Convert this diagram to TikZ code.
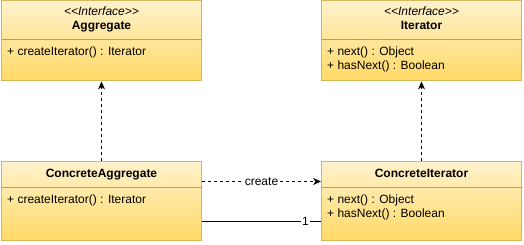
\documentclass[tikz,border=0pt]{standalone}
\usepackage{fontspec}
\setmainfont{Liberation Sans}
\usetikzlibrary{arrows.meta}
\definecolor{boxtop}{HTML}{FFF2CC}
\definecolor{boxbot}{HTML}{FFD966}
\definecolor{boxline}{HTML}{D6B656}
\definecolor{sepline}{HTML}{9AA0A8}

\begin{document}
\begin{tikzpicture}[x=1pt,y=-1pt,
        font=\fontsize{12pt}{14pt}\selectfont,
        classbox/.style={draw=boxline, line width=1pt, top color=boxtop,
            bottom color=boxbot, minimum width=200pt, inner sep=0pt},
        sepbar/.style={draw=sepline, line width=1pt, shorten <=0.5pt, shorten >=0.5pt},
        member/.style={anchor=west, inner sep=0pt, text height=9pt, text depth=3pt},
        title/.style={inner sep=0pt, text height=9pt, text depth=3pt, font=\fontsize{12pt}{14pt}\selectfont\bfseries},
        stereo/.style={inner sep=0pt, text height=9pt, text depth=3pt, font=\fontsize{12pt}{14pt}\selectfont\itshape},
        dep/.style={line width=0.8pt, dash pattern=on 3pt off 3pt, -{Stealth[length=8pt,width=7pt]}},
        assoc/.style={line width=0.8pt},
        tag/.style={fill=white, inner sep=1pt}]
    \useasboundingbox (0,0) rectangle (524,245);

    % the four classes
    \node[classbox, minimum height=80pt] (agg) at (101.5,41) {};
    \node[classbox, minimum height=80pt] (iter) at (421.5,41) {};
    \node[classbox, minimum height=79pt] (cagg) at (101.5,201.5) {};
    \node[classbox, minimum height=79pt] (citer) at (421.5,201.5) {};

    \draw[sepbar] (agg.west |- 0,40) -- (agg.east |- 0,40);
    \draw[sepbar] (iter.west |- 0,40) -- (iter.east |- 0,40);
    \draw[sepbar] (cagg.west |- 0,187.5) -- (cagg.east |- 0,187.5);
    \draw[sepbar] (citer.west |- 0,187.5) -- (citer.east |- 0,187.5);

    % Aggregate
    \node[stereo] (aggst) at (agg.north |- 0,13) {{<}{<}Interface{>}{>}};
    \node[title] (aggname) at (agg.north |- 0,27) {Aggregate};
    \node[member] (aggm1) at (7,53) {+ createIterator() : Iterator};

    % Iterator
    \node[stereo] (iterst) at (iter.north |- 0,13) {{<}{<}Interface{>}{>}};
    \node[title] (itername) at (iter.north |- 0,27) {Iterator};
    \node[member] (iterm1) at (327,53) {+ next() : Object};
    \node[member] (iterm2) at (327,67) {+ hasNext() : Boolean};

    % ConcreteAggregate
    \node[title] (caggname) at (cagg.north |- 0,175) {ConcreteAggregate};
    \node[member] (caggm1) at (7,201) {+ createIterator() : Iterator};

    % ConcreteIterator
    \node[title] (citername) at (citer.north |- 0,175) {ConcreteIterator};
    \node[member] (citerm1) at (327,201) {+ next() : Object};
    \node[member] (citerm2) at (327,215) {+ hasNext() : Boolean};

    % relations
    \draw[dep] (cagg.north) -- (agg.south);
    \draw[dep] (citer.north) -- (iter.south);
    \draw[dep] ([yshift=-20pt]cagg.north east) -- ([yshift=-20pt]citer.north west)
        node[tag, midway] {create};
    \draw[assoc] ([yshift=20pt]cagg.south east) -- ([yshift=20pt]citer.south west)
        node[tag, pos=0.87] {1};
\end{tikzpicture}
\end{document}
